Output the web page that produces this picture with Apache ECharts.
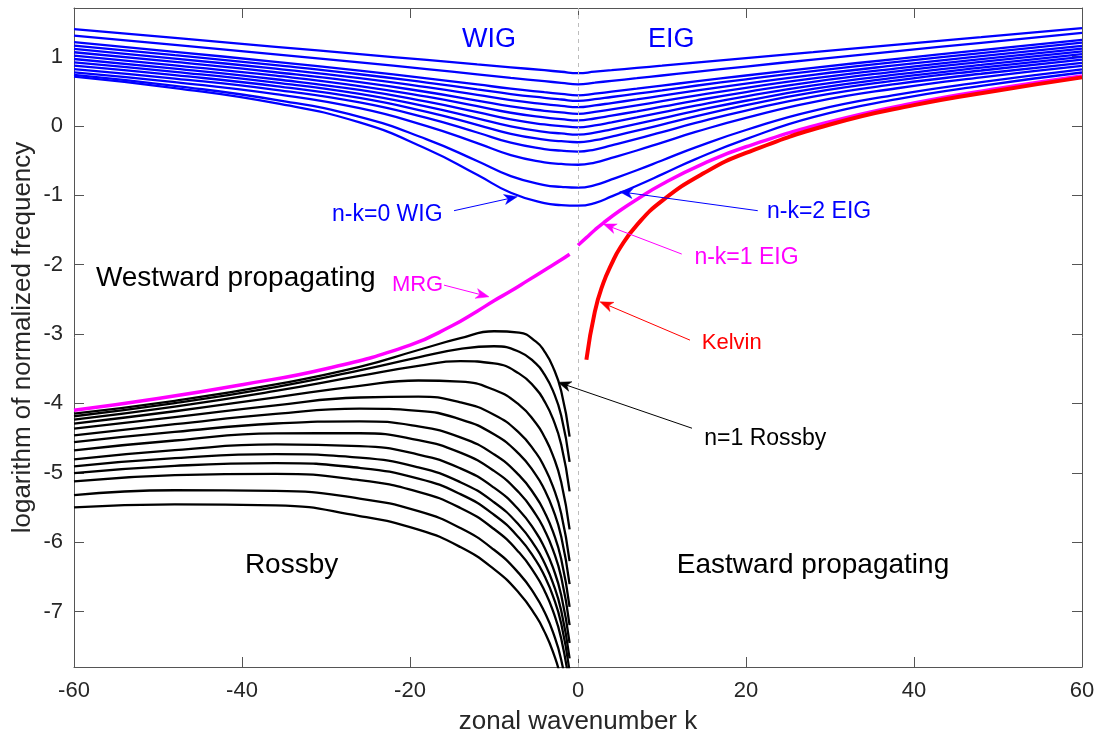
<!DOCTYPE html>
<html><head><meta charset="utf-8">
<script src="https://cdn.jsdelivr.net/npm/echarts@6/dist/echarts.min.js"></script>
<style>html,body{margin:0;padding:0;background:#fff}#c{width:1096px;height:738px}</style>
</head><body><div id="c"></div>
<script>
// ---------- data ----------
const xTicks = [-60, -40, -20, 0, 20, 40, 60];
const yTicks = [-7, -6, -5, -4, -3, -2, -1, 0, 1];

// inertia-gravity curves (WIG for k<0, EIG for k>0)
const kBlue = [-60, -48, -36, -26, -18, -12, -8, -4, -2, 0, 2, 4, 7, 10, 14, 20, 28, 38, 48, 60];
const igCurves = [
  [1.395, 1.268, 1.141, 1.035, 0.951, 0.887, 0.845, 0.803, 0.781, 0.760, 0.782, 0.803, 0.836, 0.868, 0.912, 0.977, 1.063, 1.172, 1.280, 1.410],
  [1.303, 1.168, 1.032, 0.916, 0.819, 0.743, 0.692, 0.645, 0.622, 0.600, 0.624, 0.650, 0.688, 0.727, 0.779, 0.856, 0.957, 1.078, 1.198, 1.340],
  [1.208, 1.068, 0.924, 0.798, 0.687, 0.598, 0.538, 0.486, 0.462, 0.440, 0.465, 0.494, 0.537, 0.582, 0.641, 0.727, 0.838, 0.967, 1.092, 1.240],
  [1.159, 1.020, 0.875, 0.745, 0.625, 0.527, 0.460, 0.405, 0.381, 0.360, 0.385, 0.417, 0.465, 0.513, 0.579, 0.672, 0.791, 0.924, 1.051, 1.200],
  [1.111, 0.971, 0.825, 0.689, 0.558, 0.448, 0.373, 0.314, 0.290, 0.270, 0.296, 0.330, 0.382, 0.436, 0.508, 0.610, 0.737, 0.876, 1.005, 1.155],
  [1.062, 0.923, 0.774, 0.632, 0.489, 0.366, 0.281, 0.218, 0.195, 0.175, 0.202, 0.239, 0.297, 0.356, 0.437, 0.549, 0.685, 0.831, 0.963, 1.115],
  [1.013, 0.874, 0.724, 0.575, 0.421, 0.284, 0.190, 0.122, 0.099, 0.080, 0.107, 0.148, 0.211, 0.277, 0.366, 0.488, 0.636, 0.787, 0.922, 1.075],
  [0.965, 0.827, 0.673, 0.519, 0.349, 0.198, 0.093, 0.021, -0.002, -0.020, 0.008, 0.052, 0.122, 0.195, 0.292, 0.426, 0.585, 0.743, 0.881, 1.035],
  [0.917, 0.780, 0.624, 0.462, 0.277, 0.109, -0.007, -0.085, -0.108, -0.125, -0.097, -0.048, 0.029, 0.109, 0.217, 0.363, 0.534, 0.699, 0.840, 0.995],
  [0.868, 0.732, 0.575, 0.405, 0.203, 0.016, -0.114, -0.198, -0.220, -0.235, -0.206, -0.153, -0.069, 0.020, 0.139, 0.299, 0.484, 0.656, 0.799, 0.955],
  [0.820, 0.683, 0.521, 0.339, 0.116, -0.095, -0.242, -0.333, -0.356, -0.370, -0.340, -0.281, -0.188, -0.089, 0.043, 0.221, 0.423, 0.605, 0.752, 0.910],
  [0.772, 0.631, 0.458, 0.255, -0.003, -0.248, -0.420, -0.524, -0.548, -0.560, -0.529, -0.461, -0.354, -0.240, -0.087, 0.116, 0.344, 0.543, 0.701, 0.865],
  [0.735, 0.577, 0.376, 0.132, -0.193, -0.505, -0.723, -0.852, -0.878, -0.890, -0.854, -0.771, -0.639, -0.498, -0.309, -0.059, 0.218, 0.452, 0.631, 0.815],
  [0.710, 0.545, 0.327, 0.050, -0.332, -0.704, -0.964, -1.113, -1.141, -1.150, -1.112, -1.016, -0.862, -0.699, -0.478, -0.190, 0.127, 0.386, 0.578, 0.770]
];

// Rossby curves
const kRossby = [-60, -48, -36, -26, -19, -14, -10, -7, -5, -4, -3, -2, -1];
const rossbyCurves = [
  [-4.146, -3.962, -3.726, -3.474, -3.230, -3.060, -2.960, -2.980, -3.110, -3.250, -3.470, -3.820, -4.480],
  [-4.185, -3.997, -3.764, -3.524, -3.337, -3.215, -3.176, -3.255, -3.428, -3.582, -3.813, -4.175, -4.842],
  [-4.233, -4.045, -3.820, -3.604, -3.458, -3.392, -3.424, -3.571, -3.791, -3.967, -4.216, -4.593, -5.268],
  [-4.291, -4.113, -3.913, -3.747, -3.670, -3.686, -3.804, -4.022, -4.286, -4.480, -4.745, -5.134, -5.817],
  [-4.363, -4.198, -4.028, -3.915, -3.903, -3.984, -4.163, -4.425, -4.714, -4.919, -5.192, -5.586, -6.273],
  [-4.460, -4.300, -4.151, -4.076, -4.107, -4.230, -4.445, -4.731, -5.033, -5.242, -5.519, -5.917, -6.606],
  [-4.557, -4.411, -4.290, -4.258, -4.331, -4.489, -4.734, -5.038, -5.349, -5.562, -5.842, -6.242, -6.932],
  [-4.676, -4.535, -4.433, -4.430, -4.529, -4.710, -4.973, -5.289, -5.606, -5.821, -6.103, -6.504, -7.195],
  [-4.806, -4.674, -4.592, -4.615, -4.737, -4.936, -5.215, -5.540, -5.861, -6.078, -6.361, -6.763, -7.454],
  [-4.907, -4.790, -4.731, -4.781, -4.922, -5.136, -5.425, -5.756, -6.080, -6.298, -6.582, -6.985, -7.677],
  [-5.006, -4.901, -4.861, -4.930, -5.084, -5.308, -5.605, -5.940, -6.266, -6.486, -6.770, -7.173, -7.865],
  [-5.125, -5.035, -5.016, -5.105, -5.274, -5.507, -5.811, -6.150, -6.479, -6.698, -6.984, -7.388, -8.079],
  [-5.322, -5.252, -5.260, -5.372, -5.554, -5.797, -6.110, -6.454, -6.784, -7.005, -7.291, -7.695, -8.387],
  [-5.500, -5.456, -5.470, -5.624, -5.820, -6.071, -6.390, -6.736, -7.068, -7.290, -7.576, -7.981, -8.670]
];

// mixed Rossby-gravity (west) and n-k=1 EIG (east)
const kMRG = [-60, -50, -40, -30, -20, -15, -12, -10, -8, -6, -4, -2, -1];
const mrg = [-4.10, -3.93, -3.73, -3.50, -3.16, -2.88, -2.67, -2.52, -2.38, -2.23, -2.08, -1.93, -1.85];
const kEIG1 = [0, 1, 2, 3, 5, 7, 10, 15, 20, 30, 40, 50, 60];
const eig1 = [-1.72, -1.61, -1.50, -1.40, -1.22, -1.06, -0.84, -0.54, -0.30, 0.06, 0.33, 0.54, 0.72];

// Kelvin
const kKelvin = [1, 2, 3, 4, 5, 7, 10, 15, 20, 30, 40, 50, 60];
const kelvin = [-3.37, -2.68, -2.27, -1.99, -1.76, -1.43, -1.08, -0.68, -0.39, 0.02, 0.30, 0.51, 0.70];

// ---------- annotations ----------
const FONT = '"Liberation Sans", Arial, Helvetica, sans-serif';
const labels = [
  {text: 'WIG', at: [-10.6, 1.24], color: '#0000ff', size: 27},
  {text: 'EIG', at: [11.1, 1.24], color: '#0000ff', size: 27},
  {text: 'n-k=0 WIG', at: [-22.7, -1.285], color: '#0000ff', size: 23},
  {text: 'n-k=2 EIG', at: [28.7, -1.24], color: '#0000ff', size: 23},
  {text: 'n-k=1 EIG', at: [20.06, -1.905], color: '#ff00ff', size: 23},
  {text: 'MRG', at: [-19.1, -2.295], color: '#ff00ff', size: 22},
  {text: 'Kelvin', at: [18.3, -3.13], color: '#ff0000', size: 22},
  {text: 'n=1 Rossby', at: [22.3, -4.503], color: '#000000', size: 23},
  {text: 'Westward propagating', at: [-40.75, -2.19], color: '#000000', size: 28},
  {text: 'Rossby', at: [-34.1, -6.336], color: '#000000', size: 28},
  {text: 'Eastward propagating', at: [27.98, -6.336], color: '#000000', size: 28}
];
const arrows = [
  {from: [-14.76, -1.222], to: [-7.23, -1.02], color: '#0000ff'},
  {from: [21.4, -1.222], to: [4.96, -0.948], color: '#0000ff'},
  {from: [12.35, -1.847], to: [3.01, -1.414], color: '#ff00ff'},
  {from: [-15.95, -2.295], to: [-10.6, -2.463], color: '#ff00ff'},
  {from: [13.33, -3.088], to: [2.62, -2.536], color: '#ff0000'},
  {from: [13.57, -4.358], to: [-2.38, -3.695], color: '#000000'}
];

// ---------- chart ----------
const chart = echarts.init(document.getElementById('c'), null, {renderer: 'canvas'});
const zip = (ks, ys) => ks.map((k, i) => [k, ys[i]]);
const axisColor = '#555555';
const textColor = '#262626';
const SMOOTH = 0.5;

const series = [];
series.push({
  type: 'line', data: [], silent: true,
  markLine: {
    silent: true, symbol: ['none', 'none'], animation: false,
    label: {show: false},
    lineStyle: {type: [4, 4], color: '#bdbdbd', width: 1},
    data: [{xAxis: 0}]
  }
});
igCurves.forEach(row => series.push({
  type: 'line', data: zip(kBlue, row), smooth: SMOOTH,
  symbol: 'none', lineStyle: {color: '#0000ff', width: 2.3}, z: 3, silent: true
}));
rossbyCurves.forEach(row => series.push({
  type: 'line', data: zip(kRossby, row), smooth: SMOOTH,
  symbol: 'none', lineStyle: {color: '#000000', width: 2.3}, z: 3, silent: true
}));
series.push({type: 'line', data: zip(kMRG, mrg), smooth: SMOOTH,
  symbol: 'none', lineStyle: {color: '#ff00ff', width: 3.5}, z: 4, silent: true});
series.push({type: 'line', data: zip(kEIG1, eig1), smooth: SMOOTH,
  symbol: 'none', lineStyle: {color: '#ff00ff', width: 3.5}, z: 4, silent: true});
series.push({type: 'line', data: zip(kKelvin, kelvin), smooth: SMOOTH,
  symbol: 'none', lineStyle: {color: '#ff0000', width: 4}, z: 5, silent: true});

const baseX = {
  type: 'value', min: -60, max: 60, interval: 20,
  axisLine: {show: true, onZero: false, lineStyle: {color: axisColor, width: 1}},
  axisTick: {show: true, inside: true, length: 10, lineStyle: {color: axisColor, width: 1}},
  splitLine: {show: false}
};
const baseY = {
  type: 'value', min: -7.8, max: 1.7,
  axisLine: {show: true, onZero: false, lineStyle: {color: axisColor, width: 1}},
  axisTick: {show: true, inside: true, length: 10, customValues: yTicks, lineStyle: {color: axisColor, width: 1}},
  splitLine: {show: false}
};

const option = {
  animation: false,
  backgroundColor: '#ffffff',
  grid: {left: 74, right: 14, top: 8, bottom: 71, containLabel: false, outerBoundsMode: 'none'},
  xAxis: [
    Object.assign({}, baseX, {
      position: 'bottom',
      axisLabel: {show: true, color: textColor, fontSize: 22, fontFamily: FONT, margin: 13,
        customValues: xTicks},
      name: 'zonal wavenumber k', nameLocation: 'middle', nameGap: 42, nameMoveOverlap: false,
      nameTextStyle: {color: textColor, fontSize: 26, fontFamily: FONT}
    }),
    Object.assign({}, baseX, {position: 'top', axisLabel: {show: false}})
  ],
  yAxis: [
    Object.assign({}, baseY, {
      position: 'left',
      axisLabel: {show: true, color: textColor, fontSize: 22, fontFamily: FONT, margin: 11,
        customValues: yTicks},
      name: 'logarithm of normalized frequency', nameLocation: 'middle', nameGap: 38, nameRotate: 90,
      nameMoveOverlap: false,
      nameTextStyle: {color: textColor, fontSize: 26, fontFamily: FONT}
    }),
    Object.assign({}, baseY, {position: 'right', axisLabel: {show: false}})
  ],
  series: series
};
chart.setOption(option);

// annotation texts and arrows, placed in data coordinates
const toPx = p => chart.convertToPixel({xAxisIndex: 0, yAxisIndex: 0}, p);
const graphics = [];
arrows.forEach(a => {
  const p1 = toPx(a.from), p2 = toPx(a.to);
  const dx = p2[0] - p1[0], dy = p2[1] - p1[1];
  const len = Math.sqrt(dx * dx + dy * dy);
  const ux = dx / len, uy = dy / len, nx = -uy, ny = ux;
  const L = 13, W = 5;
  const back = [p2[0] - ux * L, p2[1] - uy * L];
  const notch = [p2[0] - ux * L * 0.72, p2[1] - uy * L * 0.72];
  graphics.push({type: 'line', silent: true, z: 10,
    shape: {x1: p1[0], y1: p1[1], x2: notch[0], y2: notch[1]},
    style: {stroke: a.color, lineWidth: 1}});
  graphics.push({type: 'polygon', silent: true, z: 10,
    shape: {points: [p2, [back[0] + nx * W, back[1] + ny * W], notch, [back[0] - nx * W, back[1] - ny * W]]},
    style: {fill: a.color, stroke: a.color, lineWidth: 0.5}});
});
labels.forEach(l => {
  const p = toPx(l.at);
  graphics.push({type: 'text', silent: true, z: 10, x: p[0], y: p[1],
    style: {text: l.text, fill: l.color, fontSize: l.size, fontFamily: FONT,
      align: 'center', verticalAlign: 'middle'}});
});
chart.setOption({graphic: graphics});
</script>
</body></html>
